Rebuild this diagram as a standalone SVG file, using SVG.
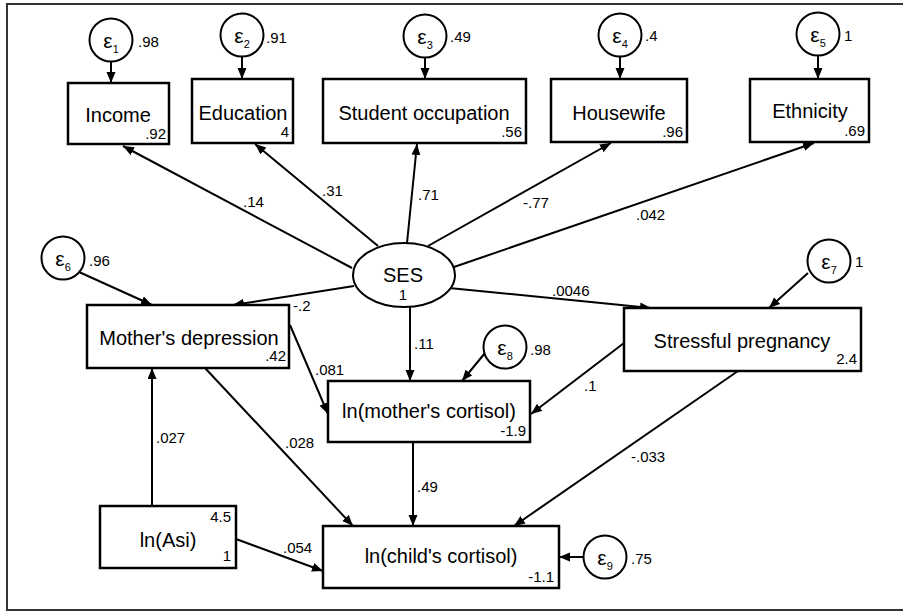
<svg xmlns="http://www.w3.org/2000/svg" width="903" height="611" viewBox="0 0 903 611">
<style>
.box{fill:#fff;stroke:#000;stroke-width:2.5}
.err{fill:#fff;stroke:#000;stroke-width:2}
.lat{fill:#fff;stroke:#000;stroke-width:2}
.lbl{font-family:"Liberation Sans",Arial,sans-serif;font-size:20px;fill:#000;text-anchor:middle}
.num{font-family:"Liberation Sans",Arial,sans-serif;font-size:15px;fill:#000}
.end{text-anchor:end}
.eps{font-family:"Liberation Sans",Arial,sans-serif;font-size:21px;fill:#000;text-anchor:middle}
.sub{font-size:11px}
.edge{fill:none;stroke:#000;stroke-width:2;marker-end:url(#arr)}
</style>
<defs>
<marker id="arr" markerUnits="userSpaceOnUse" markerWidth="12" markerHeight="10" viewBox="0 0 12 10" refX="11" refY="4.5" orient="auto">
<path d="M0,0 L11,4.5 L0,9 z" fill="#000"/>
</marker>
</defs>
<rect width="903" height="611" fill="#fff"/>
<path d="M904,4 L7,4 L7,610 L904,610" fill="none" stroke="#333" stroke-width="2"/>

<g id="connectors">
<path class="edge" d="M111,61 L111,83"/>
<path class="edge" d="M242,57 L242,79"/>
<path class="edge" d="M425,58 L425,79"/>
<path class="edge" d="M620,57 L620,79"/>
<path class="edge" d="M818,56 L818,79"/>
<path class="edge" d="M352,268 L123,146"/>
<path class="edge" d="M378,246 L255,144"/>
<path class="edge" d="M407,243 L417,144"/>
<path class="edge" d="M428,246 L611,143"/>
<path class="edge" d="M454,267 L814,143"/>
<path class="edge" d="M354,286 L233,305"/>
<path class="edge" d="M449,288 L651,308"/>
<path class="edge" d="M410,307 L410,381"/>
<path class="edge" d="M79,272 L152,305"/>
<path class="edge" d="M808,273 L769,308"/>
<path class="edge" d="M290,325 L328,414"/>
<path class="edge" d="M485,353 L462,381"/>
<path class="edge" d="M624,343 L531,414"/>
<path class="edge" d="M205,368 L353,526"/>
<path class="edge" d="M413,442 L413,526"/>
<path class="edge" d="M738,371 L514,526"/>
<path class="edge" d="M152,506 L152,368"/>
<path class="edge" d="M236,539 L323,571"/>
<path class="edge" d="M584,557 L559,557"/>
<text class="num" x="243" y="207">.14</text>
<text class="num" x="322" y="196">.31</text>
<text class="num" x="418" y="200">.71</text>
<text class="num" x="523" y="208">-.77</text>
<text class="num" x="636" y="220">.042</text>
<text class="num" x="552" y="296">.0046</text>
<text class="num" x="293" y="311">-.2</text>
<text class="num" x="414" y="349">.11</text>
<text class="num" x="315" y="375">.081</text>
<text class="num" x="156" y="443">.027</text>
<text class="num" x="285" y="448">.028</text>
<text class="num" x="584" y="391">.1</text>
<text class="num" x="631" y="462">-.033</text>
<text class="num" x="417" y="492">.49</text>
<text class="num" x="283" y="553">.054</text>
</g>

<g id="e1"><circle class="err" cx="111" cy="40" r="21.5"/><text class="eps" x="111" y="48">ε<tspan class="sub" dy="5">1</tspan></text><text class="num" x="138" y="47">.98</text></g>
<g id="e2"><circle class="err" cx="242" cy="35" r="21.5"/><text class="eps" x="242" y="43">ε<tspan class="sub" dy="5">2</tspan></text><text class="num" x="266" y="43">.91</text></g>
<g id="e3"><circle class="err" cx="425" cy="36" r="21.5"/><text class="eps" x="425" y="44">ε<tspan class="sub" dy="5">3</tspan></text><text class="num" x="450" y="42">.49</text></g>
<g id="e4"><circle class="err" cx="620" cy="35" r="21.5"/><text class="eps" x="620" y="43">ε<tspan class="sub" dy="5">4</tspan></text><text class="num" x="645" y="41">.4</text></g>
<g id="e5"><circle class="err" cx="818" cy="34" r="21.5"/><text class="eps" x="818" y="42">ε<tspan class="sub" dy="5">5</tspan></text><text class="num" x="844" y="41">1</text></g>
<g id="e6"><circle class="err" cx="63" cy="258" r="21.5"/><text class="eps" x="63" y="266">ε<tspan class="sub" dy="5">6</tspan></text><text class="num" x="89" y="266">.96</text></g>
<g id="e7"><circle class="err" cx="829" cy="261" r="21.5"/><text class="eps" x="829" y="269">ε<tspan class="sub" dy="5">7</tspan></text><text class="num" x="855" y="267">1</text></g>
<g id="e8"><circle class="err" cx="505" cy="347" r="21.5"/><text class="eps" x="505" y="355">ε<tspan class="sub" dy="5">8</tspan></text><text class="num" x="530" y="355">.98</text></g>
<g id="e9"><circle class="err" cx="605" cy="557" r="21.5"/><text class="eps" x="605" y="565">ε<tspan class="sub" dy="5">9</tspan></text><text class="num" x="631" y="564">.75</text></g>

<g id="income"><rect class="box" x="68" y="83" width="101" height="61"/><text class="lbl" x="118" y="122">Income</text><text class="num end" x="166" y="139">.92</text></g>
<g id="education"><rect class="box" x="192" y="79" width="101" height="64"/><text class="lbl" x="243" y="120">Education</text><text class="num end" x="289" y="137">4</text></g>
<g id="student"><rect class="box" x="323" y="79" width="203" height="64"/><text class="lbl" x="424" y="120">Student occupation</text><text class="num end" x="522" y="137">.56</text></g>
<g id="housewife"><rect class="box" x="551" y="79" width="136" height="63"/><text class="lbl" x="619" y="120">Housewife</text><text class="num end" x="683" y="137">.96</text></g>
<g id="ethnicity"><rect class="box" x="750" y="79" width="119" height="63"/><text class="lbl" x="810" y="118">Ethnicity</text><text class="num end" x="865" y="136">.69</text></g>
<g id="ses"><ellipse class="lat" cx="404" cy="275" rx="51" ry="32"/><text class="lbl" x="403" y="282">SES</text><text class="num" x="403" y="300" text-anchor="middle">1</text></g>
<g id="mdep"><rect class="box" x="87" y="305" width="202" height="63"/><text class="lbl" x="189" y="345">Mother's depression</text><text class="num end" x="286" y="361">.42</text></g>
<g id="stress"><rect class="box" x="624" y="308" width="237" height="63"/><text class="lbl" x="742" y="348">Stressful pregnancy</text><text class="num end" x="857" y="364">2.4</text></g>
<g id="mcort"><rect class="box" x="328" y="381" width="202" height="61"/><text class="lbl" x="429" y="418">ln(mother's cortisol)</text><text class="num end" x="526" y="436">-1.9</text></g>
<g id="asi"><rect class="box" x="100" y="506" width="136" height="62"/><text class="lbl" x="168" y="547">ln(Asi)</text><text class="num end" x="231" y="522">4.5</text><text class="num end" x="231" y="561">1</text></g>
<g id="ccort"><rect class="box" x="323" y="526" width="236" height="62"/><text class="lbl" x="441" y="563">ln(child's cortisol)</text><text class="num end" x="554" y="582">-1.1</text></g>
</svg>
